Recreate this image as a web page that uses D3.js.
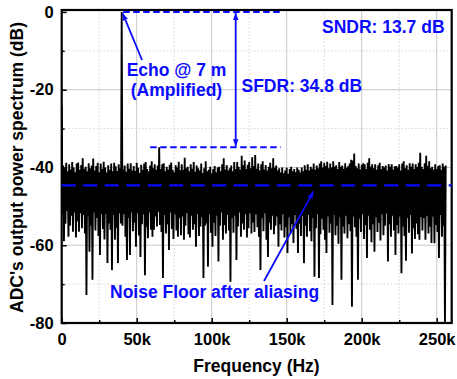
<!DOCTYPE html>
<html>
<head>
<meta charset="utf-8">
<script src="https://cdn.jsdelivr.net/npm/d3@7"></script>
<style>
  body { margin: 0; background: #fff; }
  svg { display: block; }
  text { font-family: "Liberation Sans", Arial, sans-serif; font-weight: bold; }
</style>
</head>
<body>
<svg id="chart" width="457" height="379"></svg>
<script>
// ADC output spectrum: per 1 kHz bin, the peak level (at k kHz) and the
// trough level (at k + 0.5 kHz), in dB
const binHz = 1000;
const peakDb = [
  -24, -39.5, -40.2, -38.8, -41, -39.2, -40.5, -38.6, -40, -41.2, -39, -38.7, -40.6, -39.4, -37.6, -40.3,
  -39.8, -41, -38.9, -40.2, -39.5, -37.7, -40.8, -39.6, -38.8, -41.2, -39, -40.4, -38.5, -40, -41.3, -39.4,
  -40.6, -39, -41, -38.8, -39.7, -40.9, -39.2, -40.2, 0, -40.5, -39.5, -41.1, -39, -40.3, -38.9, -40.8,
  -39.6, -40.9, -38.8, -40.1, -41.4, -39.3, -40.6, -39, -38.6, -40.4, -41, -39.5, -38.4, -40.2, -39.2, -40.6,
  -39.5, -34.8, -40.4, -39.2, -38.9, -41, -39.8, -40.5, -39.3, -38.7, -40.6, -41.2, -39.4, -40, -38.5, -40.7,
  -39.2, -40.6, -37.5, -40.2, -39.8, -41, -39.2, -40.3, -38.6, -41.1, -39.5, -40.2, -40.8, -39, -41.4, -40.2,
  -38.4, -41, -40.6, -39.8, -41.5, -40.4, -39.6, -41.2, -40, -39.8, -41, -39.2, -37.6, -40.5, -39.4, -40.8,
  -40.2, -39.5, -41, -38.6, -40.4, -38.6, -39.8, -40.6, -37, -39.4, -38.2, -40.4, -39.3, -38.6, -40.2, -37.4,
  -39.6, -36.8, -40.3, -39, -40.8, -39.2, -38.4, -40.5, -39.4, -40.8, -39.8, -38.8, -40.2, -37.6, -40, -39.5,
  -40.8, -40.2, -41.3, -40, -41.5, -40.8, -40.1, -41.6, -40.4, -39.8, -41, -40.4, -41.2, -40, -40.6, -41.3,
  -40, -41, -39.4, -40.6, -39.2, -40.8, -39.8, -40.3, -39, -40.6, -39.5, -40.2, -39, -38.4, -40, -38.8,
  -39.6, -38.5, -40.2, -39, -40, -38.4, -39.8, -39.4, -40.4, -38.6, -39.8, -39.5, -40.3, -38.9, -40.1, -39.6,
  -39, -38, -38.2, -36.4, -39.6, -40.2, -39, -40.5, -39.3, -38.9, -39.2, -40.4, -38.8, -37.6, -39.8, -39.2,
  -40.2, -39.2, -40.6, -39.4, -38.8, -40.4, -39.6, -40, -39.5, -40.8, -39.1, -39.8, -39.2, -40.5, -39.7, -39.6,
  -40, -39.2, -40.8, -39, -38.4, -40.2, -39.4, -40.6, -38.9, -39.8, -39, -40.4, -39.2, -39.9, -38.8, -36.2,
  -39.8, -40.4, -38.9, -37, -39.6, -38.4, -40.2, -39.8, -40.6, -39.2, -40.4, -39.6, -39.4, -40.6, -39, -39.8,
  -39.5
];
const troughDb = [
  -52, -59, -54.5, -51.2, -57.8, -55, -52.4, -56.5, -51.6, -58, -53.8, -56.5, -51.8, -55.6, -52.2, -57,
  -72.8, -52.5, -61.7, -55, -68.9, -51.5, -56.2, -53, -57.6, -62.5, -52, -55.8, -58.5, -51.9, -64.6, -54.4,
  -56, -66.4, -52.2, -58.6, -55.5, -64.6, -51.8, -54.4, -55, -52, -57.8, -63.8, -53, -62.5, -51.6, -56.4,
  -54.2, -60.4, -51.8, -57.5, -63, -54.6, -52, -67.7, -55.4, -58.2, -51.5, -56, -57.8, -56, -52.6, -55.2,
  -51.4, -54.8, -56.6, -68.4, -52.2, -57, -54.6, -61.2, -51.6, -55.8, -58.4, -52, -56.2, -57.8, -53, -57.4,
  -52.6, -58.6, -55, -51.8, -57.2, -58, -52.4, -56, -54.6, -60.4, -52, -57.6, -55.2, -52.8, -68.4, -55,
  -54.4, -65.5, -52, -56.8, -60.4, -54.2, -57.6, -52.4, -64.2, -55, -51.6, -58.6, -54.8, -57, -52.2, -56.2,
  -69.4, -53, -56.8, -52.4, -63.8, -55.2, -51.6, -57.8, -54.4, -56, -52, -58, -55.6, -51.8, -57, -54.2,
  -56.6, -52, -55.4, -57.8, -66.4, -53, -56.4, -51.8, -58.6, -63, -54.2, -56, -52.4, -57.2, -55, -52.6,
  -60.4, -54.6, -56.2, -52, -58, -55.4, -62, -52.8, -57, -54.6, -59.4, -52.2, -55.8, -62, -54.4, -57.6,
  -52.4, -64.6, -55, -57.8, -52.2, -56.4, -59, -53, -68.1, -55.6, -52, -68.4, -57.2, -53.2, -56, -58.6,
  -62, -52.6, -56.8, -54.4, -75.4, -52.2, -57.4, -55, -59.6, -52.8, -68.9, -55.2, -57, -52.4, -58.2, -54.6,
  -56.4, -75.8, -52.6, -55.4, -57.8, -68.9, -53.2, -56.6, -52, -58.4, -54.8, -63.3, -52.4, -56, -59.2, -54.6,
  -61.7, -52.8, -56.6, -54.2, -58.8, -52, -57.4, -55, -51.8, -64.2, -54.6, -57.8, -52.4, -56.2, -62.5, -54.8,
  -57, -52.6, -67.2, -55.2, -57.6, -64, -53, -56.8, -52.2, -62.1, -55.6, -58.4, -54.4, -57.2, -58.6, -52.8,
  -56.2, -53, -58.6, -52.4, -57, -55.2, -59.4, -52.6, -59.5, -54.8, -56.6, -63.3, -52.2, -57.8, -55, -80
];

// Axis ticks
const xMajorTicks = [0, 50000, 100000, 150000, 200000, 250000];
const xMinorTicks = [25000, 75000, 125000, 175000, 225000];
const yMajorTicks = [-80, -60, -40, -20, 0];
const yMinorTicks = [-70, -50, -30, -10];

// Annotation values
const sndrDb = 13.7;
const sfdrDb = 34.8;
const echoFreq = 40000;
const echoDb = 0;
const spurDb = -sfdrDb;
const noiseFloorDb = -44.6;
const topDashFreq = [41000, 147000];
const spurDashFreq = [59000, 146000];
const sfdrArrowFreq = 116000;

// Interleave peaks and troughs into one trace
const trace = [];
peakDb.forEach((p, i) => {
  trace.push({ f: i * binHz, db: p });
  if (i < troughDb.length) trace.push({ f: (i + 0.5) * binHz, db: troughDb[i] });
});

const svg = d3.select("#chart");
const blue = "#0a0aff";

const x = d3.scaleLinear().domain([0, 260000]).range([61.7, 451.7]);
const y = d3.scaleLinear().domain([-80, 0.5]).range([323, 10]);
const [x0, x1] = x.range();
const [yb, yt] = y.range();

const defs = svg.append("defs");
defs.append("clipPath").attr("id", "plotClip")
  .append("rect").attr("x", x0).attr("y", yt).attr("width", x1 - x0).attr("height", yb - yt);

// Grid lines
const grid = svg.append("g");
grid.selectAll(".gxm").data(xMajorTicks.filter(d => d > 0)).join("line")
  .attr("x1", d => x(d)).attr("x2", d => x(d)).attr("y1", yt).attr("y2", yb)
  .attr("stroke", "#c8c8c8").attr("stroke-width", 1);
grid.selectAll(".gym").data(yMajorTicks.filter(d => d > -80 && d < 0)).join("line")
  .attr("x1", x0).attr("x2", x1).attr("y1", d => y(d)).attr("y2", d => y(d))
  .attr("stroke", "#c8c8c8").attr("stroke-width", 1);
grid.selectAll(".gxn").data(xMinorTicks).join("line")
  .attr("x1", d => x(d)).attr("x2", d => x(d)).attr("y1", yt).attr("y2", yb)
  .attr("stroke", "#d4d4d4").attr("stroke-width", 1).attr("stroke-dasharray", "1.5,2");
grid.selectAll(".gyn").data(yMinorTicks).join("line")
  .attr("x1", x0).attr("x2", x1).attr("y1", d => y(d)).attr("y2", d => y(d))
  .attr("stroke", "#d4d4d4").attr("stroke-width", 1).attr("stroke-dasharray", "1.5,2");

// Spectrum trace
const line = d3.line().x(d => x(d.f)).y(d => y(d.db));
svg.append("path").datum(trace)
  .attr("clip-path", "url(#plotClip)")
  .attr("d", line)
  .attr("fill", "none").attr("stroke", "#000").attr("stroke-width", 1.9)
  .attr("stroke-linejoin", "miter").attr("stroke-miterlimit", 2);

// Axes
const fmtX = d => d === 0 ? "0" : (d / 1000) + "k";
svg.append("g").attr("transform", `translate(0,${yb})`)
  .call(d3.axisBottom(x).tickValues(xMajorTicks).tickFormat(fmtX).tickSize(-5).tickPadding(10));
svg.append("g").attr("transform", `translate(0,${yb})`)
  .call(d3.axisBottom(x).tickValues(xMinorTicks).tickFormat("").tickSize(-3));
svg.append("g").attr("transform", `translate(${x0},0)`)
  .call(d3.axisLeft(y).tickValues(yMajorTicks).tickFormat(d => String(d)).tickSize(-5).tickPadding(8));
svg.append("g").attr("transform", `translate(${x0},0)`)
  .call(d3.axisLeft(y).tickValues(yMinorTicks).tickFormat("").tickSize(-3));
svg.selectAll(".domain").remove();
svg.selectAll(".tick line").attr("stroke", "#000").attr("stroke-width", 1.5);
svg.selectAll(".tick text").attr("fill", "#000").style("font-size", "16.5px")
  .style("font-family", "'Liberation Sans', Arial, sans-serif").style("font-weight", "bold");

// Frame
svg.append("rect").attr("x", x0).attr("y", yt).attr("width", x1 - x0).attr("height", yb - yt)
  .attr("fill", "none").attr("stroke", "#000").attr("stroke-width", 2.2);

// Axis titles
svg.append("text").attr("x", 256.5).attr("y", 371.5).attr("text-anchor", "middle")
  .style("font-size", "17.5px").text("Frequency (Hz)");
svg.append("text").attr("transform", `translate(17,${(yt + yb) / 2 + 1}) rotate(-90)`)
  .attr("text-anchor", "middle").attr("dominant-baseline", "central")
  .style("font-size", "17.5px").text("ADC's output power spectrum (dB)");

// Annotations
defs.append("marker").attr("id", "head").attr("viewBox", "0 0 10 10")
  .attr("refX", 10).attr("refY", 5).attr("markerWidth", 7).attr("markerHeight", 7)
  .attr("markerUnits", "userSpaceOnUse").attr("orient", "auto-start-reverse")
  .append("path").attr("d", "M0,1 L10,5 L0,9 Z").attr("fill", blue);

const ann = svg.append("g");
// reference levels
ann.append("line").attr("x1", x(topDashFreq[0])).attr("x2", x(topDashFreq[1]))
  .attr("y1", y(echoDb)).attr("y2", y(echoDb))
  .attr("stroke", blue).attr("stroke-width", 2).attr("stroke-dasharray", "6.5,3.5");
ann.append("line").attr("x1", x(spurDashFreq[0])).attr("x2", x(spurDashFreq[1]))
  .attr("y1", y(spurDb)).attr("y2", y(spurDb))
  .attr("stroke", blue).attr("stroke-width", 2).attr("stroke-dasharray", "6.5,3.5");
ann.append("line").attr("x1", x0).attr("x2", x1)
  .attr("y1", y(noiseFloorDb)).attr("y2", y(noiseFloorDb))
  .attr("stroke", blue).attr("stroke-width", 2.4).attr("stroke-dasharray", "14,7.5");

// SFDR double arrow
ann.append("line").attr("x1", x(sfdrArrowFreq)).attr("x2", x(sfdrArrowFreq))
  .attr("y1", y(echoDb) + 1).attr("y2", y(spurDb) - 1)
  .attr("stroke", blue).attr("stroke-width", 1.8)
  .attr("marker-start", "url(#head)").attr("marker-end", "url(#head)");

// Echo arrow
ann.append("line").attr("x1", 142).attr("y1", 60).attr("x2", x(echoFreq) + 1).attr("y2", y(echoDb) + 1.5)
  .attr("stroke", blue).attr("stroke-width", 1.8).attr("marker-end", "url(#head)");

// Noise floor arrow
ann.append("line").attr("x1", 264).attr("y1", 281).attr("x2", 313.5).attr("y2", y(noiseFloorDb) + 6)
  .attr("stroke", blue).attr("stroke-width", 1.8).attr("marker-end", "url(#head)");

const label = (tx, ty, str, anchor) => ann.append("text").attr("x", tx).attr("y", ty)
  .attr("text-anchor", anchor || "start").attr("fill", blue).style("font-size", "17.5px").text(str);
label(176.5, 76, "Echo @ 7 m", "middle");
label(176.5, 95.5, "(Amplified)", "middle");
label(241.5, 92, `SFDR: ${sfdrDb} dB`);
label(322, 33, `SNDR: ${sndrDb} dB`);
label(110, 298, "Noise Floor after aliasing");
</script>
</body>
</html>
